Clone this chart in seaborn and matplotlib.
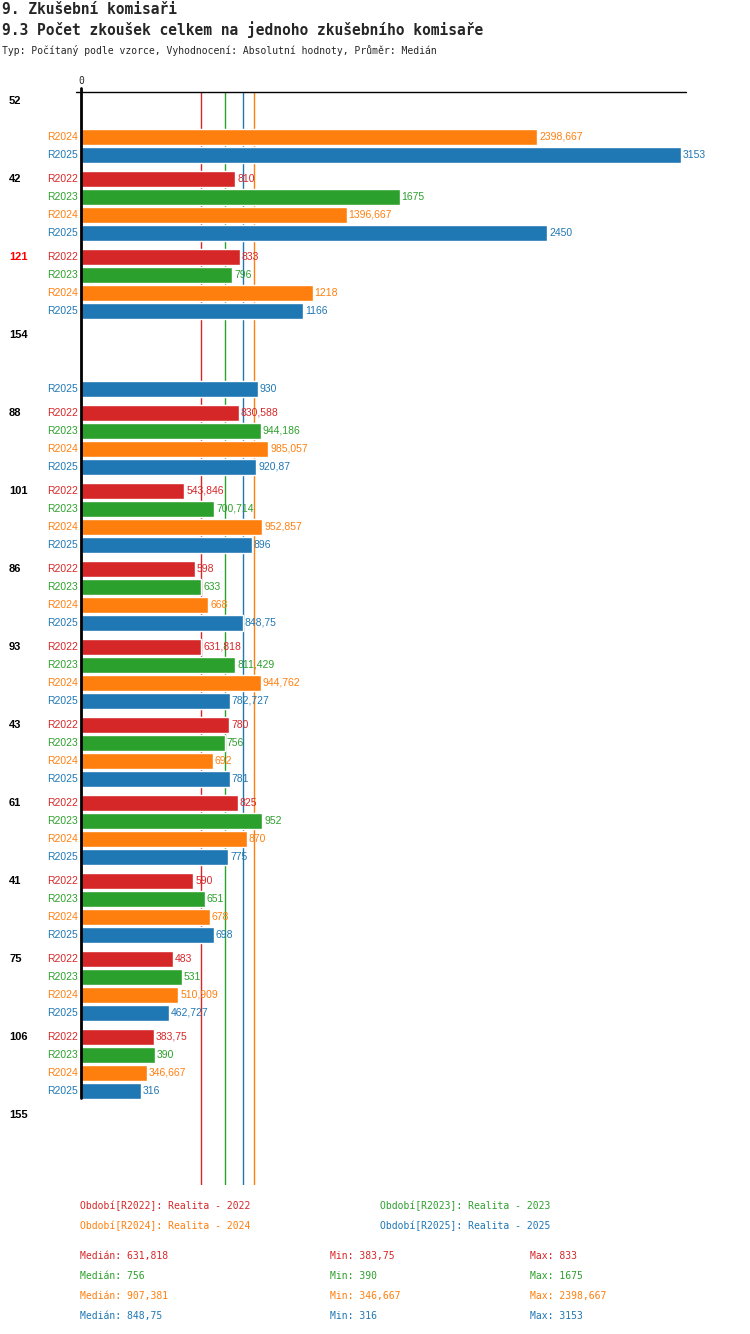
import matplotlib
matplotlib.use("Agg")
import matplotlib.pyplot as plt
from matplotlib.lines import Line2D
import seaborn as sns
import pandas as pd

sns.set_theme(style="white")
plt.rcParams['font.family'] = ['DejaVu Sans Mono', 'DejaVu Sans']

groups = ["52", "42", "121", "154", "88", "101", "86", "93", "43", "61", "41", "75", "106", "155"]
series = ["R2022", "R2023", "R2024", "R2025"]
colors = {"R2022": "#d62728", "R2023": "#2ca02c", "R2024": "#ff7f0e", "R2025": "#1f77b4"}
r2022 = [None, 810, 833, None, 830.588, 543.846, 598, 631.818, 780, 825, 590, 483, 383.75, None]
r2023 = [None, 1675, 796, None, 944.186, 700.714, 633, 811.429, 756, 952, 651, 531, 390, None]
r2024 = [2398.667, 1396.667, 1218, None, 985.057, 952.857, 668, 944.762, 692, 870, 678, 510.909, 346.667, None]
r2025 = [3153, 2450, 1166, 930, 920.87, 896, 848.75, 782.727, 781, 775, 698, 462.727, 316, None]
medians = {"R2022": 631.818, "R2023": 756, "R2024": 907.381, "R2025": 848.75}
mins = {"R2022": 383.75, "R2023": 390, "R2024": 346.667, "R2025": 316}
maxs = {"R2022": 833, "R2023": 1675, "R2024": 2398.667, "R2025": 3153}
xmax = 3153

def fmt(v):
    s = ("%.3f" % v).rstrip("0").rstrip(".")
    return s.replace(".", ",")

rows = []
for gi, g in enumerate(groups):
    for si, (s, vals) in enumerate(zip(series, [r2022, r2023, r2024, r2025])):
        v = vals[gi]
        if v is not None:
            rows.append({"group": g, "series": s, "value": v, "y": 101 + 78 * gi + 18 * si})
df = pd.DataFrame(rows)

W, H = 750, 1334
fig = plt.figure(figsize=(W / 100, H / 100), dpi=100)
top, bot, left, right = 92, 1185, 81, 681
ax = fig.add_axes([left / W, 1 - bot / H, (right - left) / W, (bot - top) / H])

for s in series:
    ax.axvline(medians[s], color=colors[s], lw=1, zorder=0)

sns.barplot(data=df, x="value", y="y", hue="series", orient="h", native_scale=True,
            dodge=False, palette=colors, width=0.9, saturation=1, legend=False, ax=ax, zorder=2)
ax.set_xlim(0, xmax)
ax.set_ylim(bot, top)
ax.axis("off")

fs = 7.5
for _, r in df.iterrows():
    ax.text(r["value"] + 10, r["y"], fmt(r["value"]), color=colors[r["series"]],
            va="center", ha="left", fontsize=fs, family=["Liberation Sans", "DejaVu Sans"])
    fig.text(78 / W, 1 - r["y"] / H, r["series"], color=colors[r["series"]], va="center",
             ha="right", fontsize=fs, family=["Liberation Sans", "DejaVu Sans"])
for gi, g in enumerate(groups):
    fig.text(9 / W, 1 - (101 + 78 * gi) / H, g, color="red" if g == "121" else "black",
             va="center", ha="left", fontsize=8, fontweight="bold", family=["Liberation Sans", "DejaVu Sans"])

fig.add_artist(Line2D([76 / W, 686 / W], [1 - 92 / H] * 2, color="black", lw=1))
fig.add_artist(Line2D([81 / W, 81 / W], [1 - 88 / H, 1 - 1098 / H], color="black", lw=2))
fig.text(81 / W, 1 - 81 / H, "0", ha="center", va="center", fontsize=7)

fig.text(2 / W, 1 - 9 / H, "9. Zkušební komisaři", fontsize=10.5, va="center", fontweight="bold")
fig.text(2 / W, 1 - 30 / H, "9.3 Počet zkoušek celkem na jednoho zkušebního komisaře", fontsize=10.5, va="center", fontweight="bold")
fig.text(2 / W, 1 - 50 / H, "Typ: Počítaný podle vzorce, Vyhodnocení: Absolutní hodnoty, Průměr: Medián", fontsize=7, va="center")

leg = [("R2022", 80, 1206, "2022"), ("R2023", 380, 1206, "2023"),
       ("R2024", 80, 1226, "2024"), ("R2025", 380, 1226, "2025")]
for s, x, y, yr in leg:
    fig.text(x / W, 1 - y / H, f"Období[{s}]: Realita - {yr}", color=colors[s], fontsize=7, va="center")
for i, s in enumerate(series):
    y = 1256 + 20 * i
    fig.text(80 / W, 1 - y / H, f"Medián: {fmt(medians[s])}", color=colors[s], fontsize=7, va="center")
    fig.text(330 / W, 1 - y / H, f"Min: {fmt(mins[s])}", color=colors[s], fontsize=7, va="center")
    fig.text(530 / W, 1 - y / H, f"Max: {fmt(maxs[s])}", color=colors[s], fontsize=7, va="center")

fig.savefig("out.png", dpi=100)
